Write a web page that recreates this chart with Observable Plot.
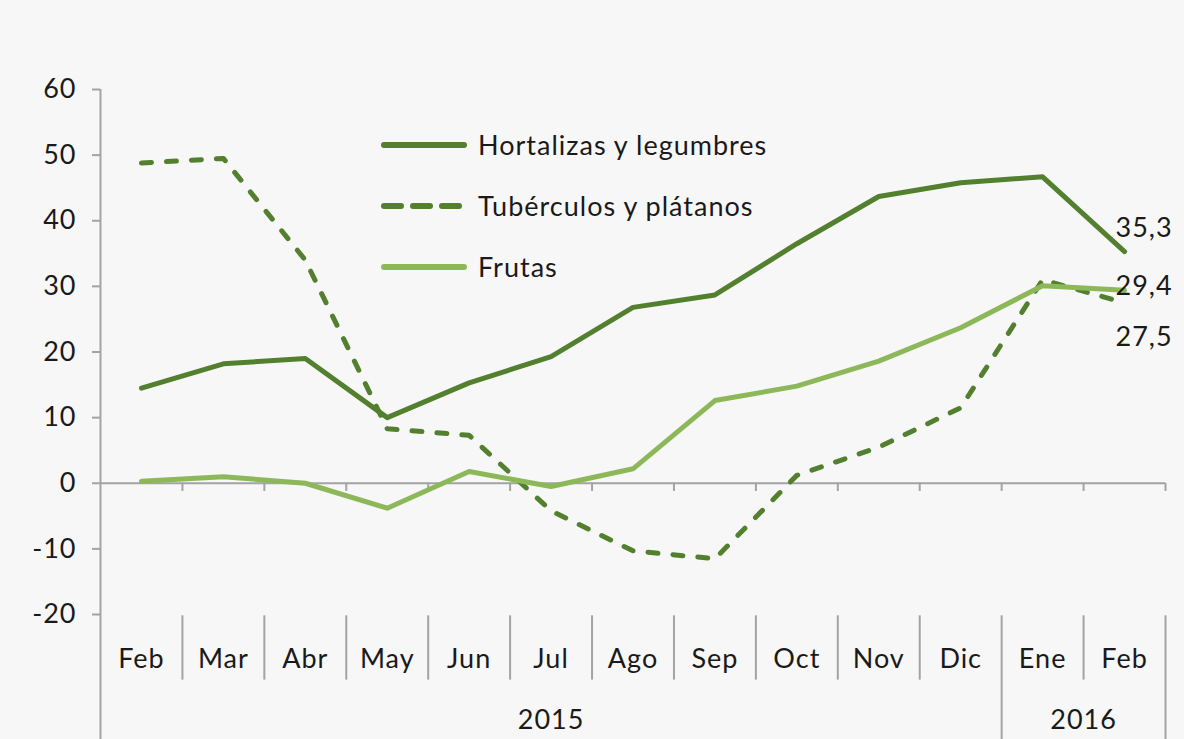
<!DOCTYPE html>
<html>
<head>
<meta charset="utf-8">
<script src="https://cdn.jsdelivr.net/npm/d3@7"></script>
<script src="https://cdn.jsdelivr.net/npm/@observablehq/plot@0.6"></script>
<style>
  html, body { margin: 0; padding: 0; background: #f7f7f7; }
  #wrap { position: relative; width: 1184px; height: 739px; font-family: Lato, "Noto Sans", sans-serif; }
  #wrap svg text { letter-spacing: 1px; }
  #legend { position: absolute; left: 380px; top: 114px; font-size: 27px; letter-spacing: 1px; color: #1a1a1a; }
  .item { display: flex; align-items: center; height: 61px; }
  .item svg { margin-right: 10px; }
</style>
</head>
<body>
<div id="wrap"><div id="legend"></div></div>
<script>
const months = ["Feb","Mar","Abr","May","Jun","Jul","Ago","Sep","Oct","Nov","Dic","Ene","Feb"];
const years = ["2015", "2016"];
const yearFirstMonth = [0, 11];
const yearLastMonth = [10, 12];
const seriesNames = ["Hortalizas y legumbres", "Tubérculos y plátanos", "Frutas"];
const hortalizas = [14.5, 18.2, 19.0, 10.0, 15.3, 19.3, 26.8, 28.7, 36.5, 43.7, 45.8, 46.7, 35.3];
const tuberculos = [48.8, 49.5, 34.0, 8.3, 7.3, -4.2, -10.3, -11.5, 1.2, 5.5, 11.5, 31.0, 27.5];
const frutas = [0.3, 1.0, 0.0, -3.8, 1.8, -0.5, 2.2, 12.6, 14.8, 18.6, 23.7, 30.1, 29.4];
const yTicks = [-20, -10, 0, 10, 20, 30, 40, 50, 60];

const dark = "#52802e";
const light = "#8db85a";
const styles = {
  "Hortalizas y legumbres": {stroke: dark, dash: null, legendDash: null, dy: -23},
  "Tubérculos y plátanos": {stroke: dark, dash: "10,15", legendDash: "17,12", dy: 35},
  "Frutas": {stroke: light, dash: null, legendDash: null, dy: -4}
};

const valuesBySeries = [hortalizas, tuberculos, frutas];
const rows = seriesNames.flatMap((s, k) => valuesBySeries[k].map((v, i) => ({series: s, i, v})));
const lastRows = seriesNames.map((s, k) => ({series: s, i: months.length - 1, v: valuesBySeries[k][months.length - 1]}));

const yBottom = -39.3;
const n = months.length;
const longBounds = yearLastMonth.map(e => e + 0.5);
const innerBounds = d3.range(0, n - 1).map(i => i + 0.5).filter(b => !longBounds.includes(b));
const zeroTicks = d3.range(0, n).map(i => i + 0.5);
const yearRows = years.map((y, k) => ({year: y, x: (yearFirstMonth[k] + yearLastMonth[k]) / 2}));

const gray = "#a3a3a3";
const fs = 27;
const chart = Plot.plot({
  width: 1184,
  height: 739,
  marginLeft: 100,
  marginRight: 19,
  marginTop: 89,
  marginBottom: 125,
  x: {type: "linear", domain: [-0.5, n - 0.5], axis: null},
  y: {domain: [-20, 60], axis: null},
  style: {background: "transparent", fontFamily: "Lato, 'Noto Sans', sans-serif", fontSize: fs + "px", color: "#1a1a1a", overflow: "visible"},
  marks: [
    Plot.axisY({ticks: yTicks, tickSize: 8, tickFormat: () => "", color: gray, strokeWidth: 2, anchor: "left", label: null}),
    Plot.axisY({ticks: yTicks, tickSize: 0, tickPadding: 24, tickFormat: d => String(d), color: "#1a1a1a", fontSize: fs, anchor: "left", label: null}),
    Plot.ruleX([-0.5], {y1: 60, y2: yBottom, stroke: gray, strokeWidth: 2, clip: false}),
    Plot.ruleY([0], {stroke: gray, strokeWidth: 2}),
    Plot.ruleX(zeroTicks, {x: d => d, y1: 0, y2: -1.25, stroke: gray, strokeWidth: 2}),
    Plot.ruleX(innerBounds, {x: d => d, y1: -20.2, y2: -30.0, stroke: gray, strokeWidth: 2, clip: false}),
    Plot.ruleX(longBounds, {x: d => d, y1: -20.2, y2: yBottom, stroke: gray, strokeWidth: 2, clip: false}),
    Plot.text(months, {x: (d, i) => i, y: -26.9, text: d => d, fill: "#1a1a1a", fontSize: fs, clip: false}),
    Plot.text(yearRows, {x: "x", y: -36.1, text: "year", fill: "#1a1a1a", fontSize: fs, clip: false}),
    ...seriesNames.map(s => Plot.line(rows.filter(r => r.series === s), {
      x: "i", y: "v", stroke: styles[s].stroke, strokeWidth: 5,
      strokeDasharray: styles[s].dash, strokeLinecap: "round", strokeLinejoin: "round"
    })),
    ...lastRows.map(r => Plot.text([r], {
      x: "i", y: "v", text: d => d3.format(".1f")(d.v).replace(".", ","),
      textAnchor: "start", dx: -9, dy: styles[r.series].dy, fill: "#1a1a1a", fontSize: fs, clip: false
    }))
  ]
});
const wrap = document.getElementById("wrap");
wrap.insertBefore(chart, wrap.firstChild);

const legend = document.getElementById("legend");
seriesNames.forEach(s => {
  const st = styles[s];
  const item = document.createElement("div");
  item.className = "item";
  item.innerHTML = `<svg width="88" height="10"><line x1="4" y1="5" x2="84" y2="5" stroke="${st.stroke}" stroke-width="6" stroke-linecap="round" ${st.legendDash ? `stroke-dasharray="${st.legendDash}"` : ""}/></svg><span>${s}</span>`;
  legend.appendChild(item);
});
</script>
</body>
</html>
